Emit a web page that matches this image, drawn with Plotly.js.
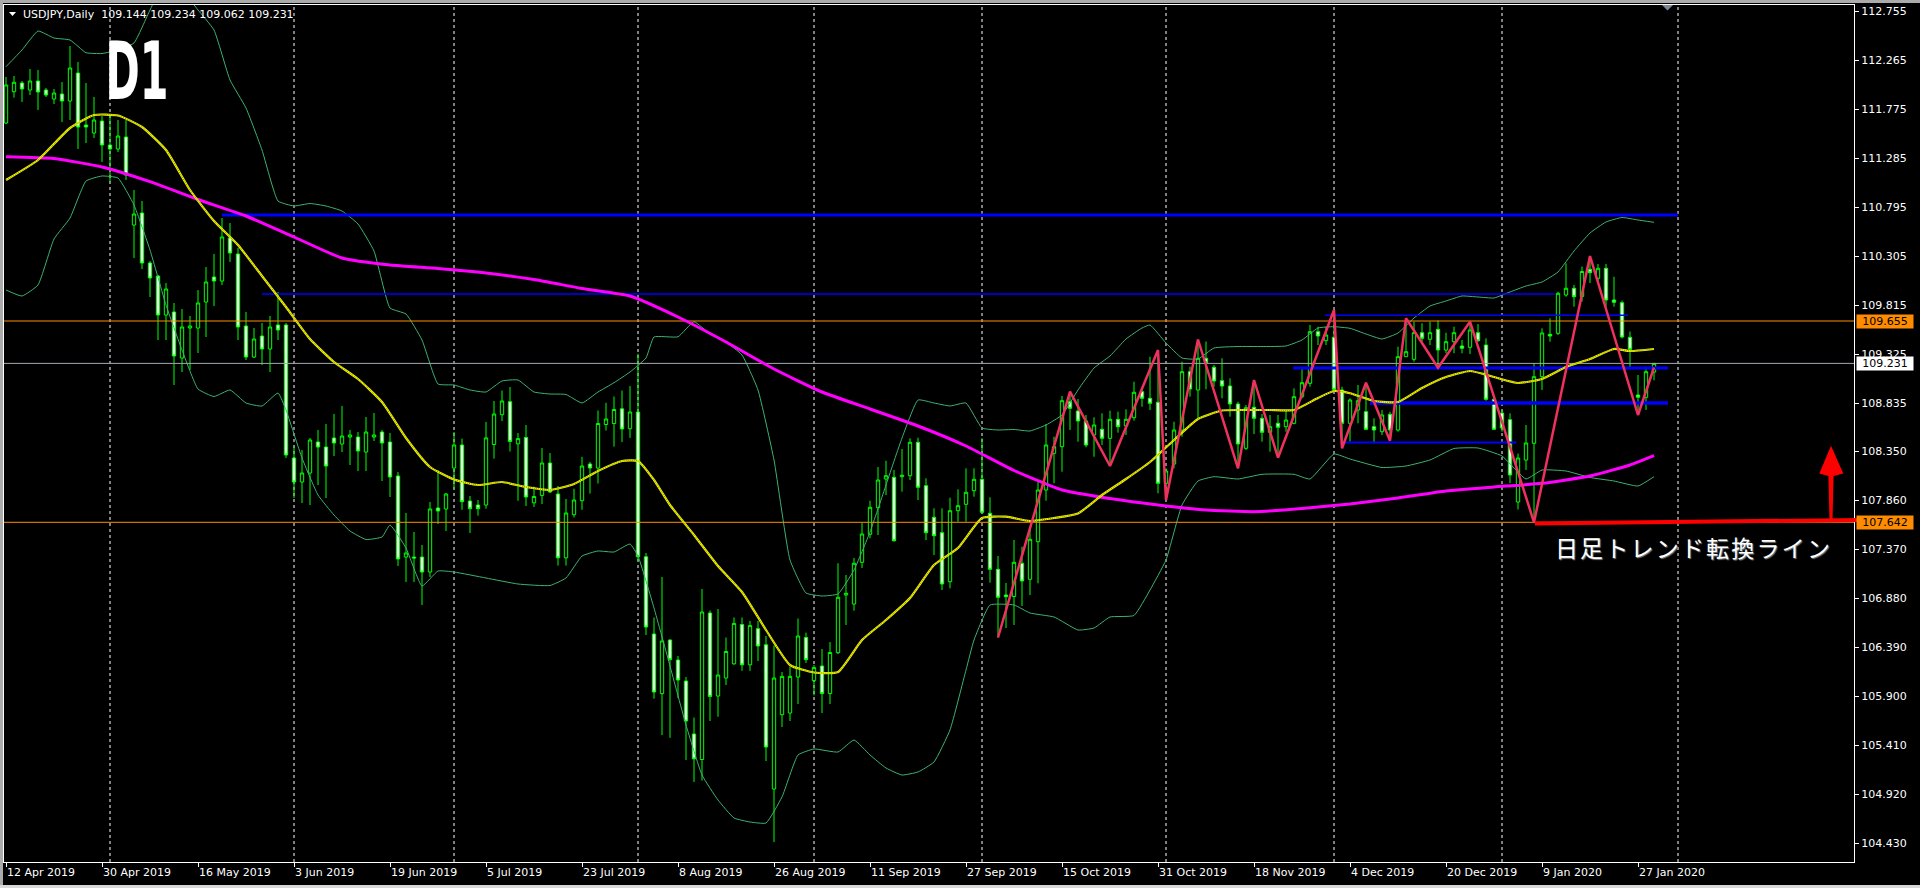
<!DOCTYPE html>
<html><head><meta charset="utf-8">
<script src="https://cdn.plot.ly/plotly-3.0.1.min.js"></script>
<style>html,body{margin:0;padding:0;background:#000;overflow:hidden}#chart{width:1920px;height:888px}</style>
</head><body><div id="chart"></div>
<script>
// ---------------- data ----------------
const opens = [
111.635,111.948,112.035,111.965,112.055,111.965,111.875,111.925,111.855,112.135,
111.615,111.535,111.655,111.415,111.375,111.495,110.615,110.735,110.235,110.105,
109.715,109.745,109.285,109.585,109.585,109.845,110.095,110.055,110.485,110.325,
109.605,109.295,109.505,109.375,109.615,109.615,108.285,108.045,108.135,108.445,
108.395,108.485,108.425,108.495,108.495,108.345,108.495,108.545,108.445,108.105,
107.295,107.295,107.295,107.145,107.785,107.775,108.185,108.415,107.855,107.815,
107.815,108.420,108.718,108.848,108.427,108.490,107.837,107.911,108.235,107.925,
107.287,107.718,107.858,108.225,108.185,108.620,108.630,108.777,108.578,108.745,
107.297,106.525,105.929,106.465,106.265,106.055,105.525,105.270,106.735,105.905,
106.085,106.227,106.620,106.217,106.578,106.417,104.975,105.718,105.735,106.095,
106.490,106.059,106.205,105.929,106.338,106.915,106.825,107.242,107.522,107.788,
108.075,108.092,108.098,108.108,108.442,108.008,107.692,107.538,107.048,107.758,
107.822,107.958,108.072,107.732,107.172,106.915,106.900,107.232,107.072,107.448,
107.965,108.332,108.398,108.848,108.755,108.655,108.515,108.572,108.482,108.672,
108.605,108.688,108.948,108.882,108.842,108.032,108.225,108.565,109.148,108.965,
109.282,109.192,109.058,109.005,108.825,108.382,108.792,108.682,108.542,108.632,
108.598,108.632,108.898,109.032,109.548,109.458,109.492,108.965,108.632,108.765,
108.748,108.598,108.548,108.722,108.565,109.298,109.272,109.538,109.472,109.572,
109.365,109.448,109.405,109.392,109.538,109.415,108.872,108.735,108.668,107.845,
108.265,108.432,109.098,109.522,109.532,109.915,109.982,109.900,110.172,110.082,
110.182,109.865,109.838,109.492,108.915,108.892,109.144];
const highs = [
112.095,112.105,112.055,112.175,112.165,111.985,111.975,112.045,112.405,112.245,
112.035,111.895,111.705,111.705,111.665,111.665,110.965,110.855,110.255,110.115,
110.035,109.835,109.775,109.705,109.965,110.195,110.325,110.685,110.635,110.385,
109.745,109.585,109.635,109.705,109.945,109.635,108.405,108.365,108.485,108.565,
108.625,108.725,108.805,108.565,108.545,108.695,108.735,108.565,108.535,108.145,
107.735,107.545,107.415,107.845,108.165,107.935,108.545,108.479,107.905,107.865,
108.645,108.855,108.960,108.995,108.535,108.615,107.999,108.385,108.335,108.005,
107.875,107.978,108.297,108.245,108.760,108.837,108.900,108.960,109.005,109.328,
107.335,106.690,107.095,106.470,106.305,106.095,105.690,106.975,106.760,106.775,
106.490,106.690,106.690,106.655,106.655,106.505,106.410,106.145,106.199,106.680,
106.539,106.215,106.375,106.445,107.232,107.115,107.285,107.635,107.858,108.195,
108.258,108.165,108.375,108.482,108.488,108.082,107.782,107.782,107.888,107.972,
108.182,108.182,108.482,107.892,107.305,107.035,107.465,107.398,107.565,108.065,
108.625,108.498,108.905,108.948,108.875,108.715,108.692,108.732,108.758,108.748,
108.772,109.048,108.992,109.298,109.365,108.182,108.648,109.248,109.198,109.470,
109.450,109.215,109.282,109.082,108.848,108.815,109.065,108.725,108.715,108.715,
108.765,108.982,109.182,109.615,109.598,109.598,109.765,108.998,108.882,109.015,
109.038,108.682,108.765,108.748,109.398,109.682,109.648,109.632,109.648,109.660,
109.538,109.598,109.465,109.648,109.625,109.482,108.898,108.765,108.732,108.330,
108.615,109.232,109.582,109.682,109.948,110.232,110.015,110.200,110.305,110.225,
110.225,110.098,109.860,109.550,109.115,109.198,109.234];
const lows = [
111.625,111.888,111.845,111.915,111.765,111.895,111.825,111.645,111.665,111.375,
111.435,111.485,111.245,111.045,111.345,111.065,110.285,110.175,109.895,109.465,
109.465,109.015,109.145,109.165,109.335,109.495,109.805,110.015,110.245,109.465,
109.265,109.285,109.215,109.145,109.465,108.285,107.885,107.835,107.815,108.015,
107.885,108.305,108.345,108.215,108.155,108.155,108.455,108.055,107.895,107.205,
107.045,107.045,106.815,107.095,107.625,107.555,107.975,107.767,107.535,107.708,
107.778,108.279,108.655,108.350,107.858,107.805,107.795,107.825,107.935,107.209,
107.209,107.690,107.767,107.929,108.030,108.560,108.399,108.445,108.486,107.255,
106.515,105.878,105.515,105.487,105.885,105.265,105.045,105.059,105.655,105.698,
106.015,106.217,106.157,106.157,106.255,105.255,104.445,105.595,105.655,105.825,
106.235,105.911,105.735,105.825,106.325,106.615,106.758,107.185,107.482,107.515,
107.915,107.448,107.948,108.065,107.865,107.465,107.315,106.965,106.982,107.648,
107.648,107.898,107.732,107.038,106.490,106.585,106.615,106.805,106.915,107.032,
107.858,108.032,108.148,108.565,108.448,108.392,108.298,108.415,108.205,108.538,
108.515,108.658,108.798,108.765,107.932,107.865,108.182,108.498,108.898,108.682,
108.972,108.998,108.882,108.698,108.182,108.365,108.525,108.448,108.348,108.288,
108.548,108.622,108.882,108.998,109.415,109.415,108.965,108.382,108.450,108.632,
108.565,108.432,108.515,108.458,108.548,109.298,109.248,109.448,109.415,109.188,
109.332,109.332,109.332,109.325,109.448,108.858,108.565,108.548,108.032,107.770,
108.165,107.642,108.965,109.448,109.515,109.898,109.798,109.850,110.035,110.035,
109.798,109.798,109.480,109.172,108.715,108.765,109.062];
const closes = [
112.015,112.042,111.975,112.055,111.945,111.915,111.935,111.855,112.185,111.595,
111.595,111.665,111.415,111.375,111.505,111.115,110.725,110.235,110.085,109.715,
109.975,109.305,109.595,109.605,109.835,110.045,110.055,110.495,110.335,109.595,
109.295,109.475,109.375,109.595,109.565,108.315,108.045,108.135,108.465,108.395,
108.205,108.435,108.505,108.515,108.355,108.545,108.515,108.435,108.095,107.275,
107.335,107.285,107.145,107.775,107.755,107.925,108.415,107.848,107.778,107.778,
108.486,108.725,108.855,108.451,108.479,107.895,107.900,108.235,107.945,107.287,
107.735,107.865,108.205,108.185,108.630,108.675,108.770,108.575,108.745,107.297,
106.595,105.945,106.455,106.269,106.065,105.655,105.277,106.745,105.901,106.115,
106.350,106.631,106.217,106.609,106.405,105.395,106.085,106.101,106.101,106.505,
106.269,106.189,105.929,106.340,106.892,106.932,107.232,107.525,107.792,108.065,
108.108,107.458,108.112,108.442,107.992,107.538,107.508,107.025,107.758,107.808,
107.942,108.072,107.742,107.172,106.892,106.898,107.242,107.055,107.472,107.965,
108.415,108.398,108.858,108.782,108.655,108.415,108.615,108.482,108.672,108.598,
108.672,108.942,108.882,108.832,108.032,108.155,108.565,109.148,108.975,109.282,
109.238,109.055,109.005,108.825,108.425,108.788,108.682,108.542,108.598,108.592,
108.665,108.898,109.038,109.548,109.505,109.515,108.972,108.632,108.865,108.858,
108.572,108.565,108.715,108.565,109.298,109.348,109.538,109.482,109.538,109.365,
109.448,109.538,109.382,109.565,109.458,108.872,108.572,108.585,108.115,108.285,
108.435,109.098,109.535,109.505,109.932,109.982,109.898,110.150,110.138,110.182,
109.865,109.842,109.495,109.372,108.892,109.148,109.231];

// date axis (bar index positions and their labels)
const tickIdx = [0,12,24,36,48,60,72,84,96,108,120,132,144,156,168,180,192,204];
const tickLabels = ["12 Apr 2019","30 Apr 2019","16 May 2019","3 Jun 2019","19 Jun 2019","5 Jul 2019",
  "23 Jul 2019","8 Aug 2019","26 Aug 2019","11 Sep 2019","27 Sep 2019","15 Oct 2019","31 Oct 2019",
  "18 Nov 2019","4 Dec 2019","20 Dec 2019","9 Jan 2020","27 Jan 2020"];
const monthSepIdx = [13,36,56,79,101,122,145,166,187,209];
const priceTicks = [104.430,104.920,105.410,105.900,106.390,106.880,107.370,107.860,108.350,
  108.835,109.325,109.815,110.305,110.795,111.285,111.775,112.265,112.755];

// slow MA (magenta)
const maSlowIdx = [0,6,12,18,24,30,36,42,48,54,60,66,72,78,84,90,96,102,108,114,120,126,132,138,144,150,156,162,168,174,180,186,192,198,203,206];
const maSlowVal = [111.298,111.28,111.195,111.048,110.87,110.705,110.495,110.285,110.215,110.18,110.135,110.07,109.98,109.905,109.695,109.445,109.175,108.945,108.775,108.605,108.405,108.16,107.965,107.88,107.815,107.765,107.748,107.78,107.825,107.885,107.955,107.995,108.032,108.105,108.215,108.308];
// fast MA (yellow)
const maFastIdx = [0,4,8,11,14,17,20,23,26,29,32,35,38,41,44,47,50,53,56,59,62,65,68,71,74,77,79,81,83,86,89,92,95,98,101,104,107,110,113,116,119,122,125,128,131,134,137,140,143,146,149,152,155,158,161,164,166,168,171,174,177,180,183,186,189,192,195,198,201,203,206];
const maFastVal = [111.065,111.265,111.585,111.715,111.71,111.595,111.365,110.965,110.655,110.415,110.105,109.795,109.475,109.245,109.075,108.845,108.485,108.195,108.07,108.015,108.045,107.995,107.965,108.025,108.155,108.255,108.255,108.065,107.815,107.515,107.205,106.945,106.565,106.215,106.14,106.145,106.465,106.665,106.885,107.215,107.385,107.685,107.698,107.655,107.685,107.73,107.915,108.075,108.245,108.465,108.675,108.76,108.765,108.765,108.765,108.885,108.955,108.932,108.855,108.845,108.985,109.095,109.155,109.095,109.035,109.075,109.195,109.275,109.375,109.355,109.375];
// Bollinger upper / lower
const bbUpIdx = [0,2,4,6,8,10,12,14,16,18,20,22,24,26,28,30,32,34,36,38,40,42,44,46,48,50,52,54,56,58,60,62,64,66,68,70,72,74,76,78,80,81,84,86,88,90,92,94,96,98,100,102,104,106,108,110,112,114,116,118,120,122,124,126,128,130,132,134,136,138,140,142,143,145,147,149,151,154,157,160,162,164,166,168,170,172,174,176,178,180,182,184,186,188,190,192,194,196,198,200,202,204,206];
const bbUpVal = [112.198,112.365,112.555,112.485,112.465,112.338,112.33,112.365,112.435,112.765,113.065,112.965,112.765,112.565,112.065,111.785,111.365,110.855,110.805,110.83,110.805,110.755,110.625,110.355,109.785,109.725,109.465,109.025,109.015,108.965,108.945,109.055,109.065,108.945,108.925,108.92,108.835,108.945,109.038,109.145,109.285,109.495,109.497,109.648,109.525,109.445,109.315,108.965,108.265,107.265,106.935,106.905,106.925,107.165,107.545,108.015,108.485,108.865,108.835,108.805,108.835,108.585,108.565,108.57,108.555,108.615,108.715,108.965,109.185,109.305,109.475,109.585,109.615,109.435,109.285,109.275,109.385,109.40,109.40,109.405,109.465,109.585,109.598,109.582,109.525,109.475,109.535,109.685,109.805,109.855,109.905,109.895,109.885,109.945,110.005,110.045,110.145,110.355,110.535,110.645,110.69,110.665,110.642];
const bbLoIdx = [0,2,4,6,8,10,12,14,16,18,20,22,24,26,28,30,32,34,35,37,39,41,43,45,47,48,50,52,54,56,60,64,68,70,72,74,76,78,79,81,83,85,87,89,91,93,95,97,99,101,104,106,108,110,112,114,116,118,120,121,123,126,128,131,134,136,138,141,143,145,147,149,151,154,157,161,163,166,168,172,175,178,181,184,187,190,192,195,198,201,204,206];
const bbLoVal = [109.965,109.905,110.015,110.475,110.685,111.055,111.105,111.085,110.815,110.365,109.815,109.365,108.975,108.90,108.965,108.835,108.805,108.935,108.765,108.285,107.915,107.715,107.555,107.47,107.495,107.615,107.385,107.005,107.155,107.145,107.085,107.025,107.01,107.085,107.305,107.355,107.345,107.425,107.305,106.785,106.205,105.615,105.115,104.865,104.685,104.645,104.635,104.895,105.315,105.375,105.345,105.465,105.315,105.185,105.115,105.145,105.245,105.565,106.165,106.465,106.815,106.815,106.735,106.695,106.565,106.585,106.695,106.71,106.965,107.265,107.815,108.055,108.098,108.075,108.122,108.122,108.075,108.325,108.275,108.19,108.205,108.265,108.38,108.385,108.305,108.075,108.165,108.155,108.09,108.055,108.005,108.098];
// ZigZag
const zzIdx = [124,133,138,144,145,149,154,156,159,166,167,170,173,175,179,183,191,198,204,206];
const zzVal = [106.49,108.948,108.205,109.365,107.865,109.47,108.182,109.065,108.288,109.765,108.382,109.038,108.458,109.682,109.188,109.648,107.642,110.305,108.715,109.19];
// horizontal lines
const orangeLevels = [109.655, 107.642];
const greyLevel = 109.231;
const blueLevels = [110.715, 109.925, 109.712, 109.185, 108.835, 108.44];
const blueStart  = [27, 32, 164.9, 160.9, 170.5, 166.8];
const blueEnd    = [209, 193.6, 202.75, 207.75, 207.75, 188.8];
const blueWidth  = [3.2, 1.5, 1.5, 3, 3.5, 2];
const trendText = '日足トレンド転換ライン';

// ---------------- geometry ----------------
const PL=4, PR=1854, PT=5, PB=862;
const px = x => (x-PL)/(PR-PL);
const py = y => (PB-y)/(PB-PT);
const N = opens.length;
const idx = Array.from({length:N}, (_, i) => i);
const xRange = [(PL-6)/8, (PR-6)/8];
const yRange = [104.245, 112.815];

const traces = [];
traces.push({type:'candlestick', x:idx, open:opens, high:highs, low:lows, close:closes,
  increasing:{line:{color:'#00FF00', width:1}, fillcolor:'#000000'},
  decreasing:{line:{color:'#00FF00', width:1}, fillcolor:'#FFFFFF'},
  whiskerwidth:0, hoverinfo:'skip', showlegend:false});
traces.push({type:'scatter', mode:'lines', x:bbUpIdx, y:bbUpVal, line:{color:'#3CB371', width:1, shape:'spline', smoothing:0.4}, hoverinfo:'skip', showlegend:false});
traces.push({type:'scatter', mode:'lines', x:bbLoIdx, y:bbLoVal, line:{color:'#3CB371', width:1, shape:'spline', smoothing:0.4}, hoverinfo:'skip', showlegend:false});
orangeLevels.forEach(v => traces.push({type:'scatter', mode:'lines', x:[xRange[0]-2, xRange[1]+2], y:[v, v], line:{color:'#FF8C00', width:1}, hoverinfo:'skip', showlegend:false}));
traces.push({type:'scatter', mode:'lines', x:[xRange[0]-2, xRange[1]+2], y:[greyLevel, greyLevel], line:{color:'#A0A8B0', width:1}, hoverinfo:'skip', showlegend:false});
blueLevels.forEach((v, k) => traces.push({type:'scatter', mode:'lines', x:[blueStart[k], blueEnd[k]], y:[v, v], line:{color:'#0000FF', width:blueWidth[k]}, hoverinfo:'skip', showlegend:false}));
traces.push({type:'scatter', mode:'lines', x:maSlowIdx, y:maSlowVal, line:{color:'#FF00FF', width:3, shape:'spline', smoothing:0.5}, hoverinfo:'skip', showlegend:false});
traces.push({type:'scatter', mode:'lines', x:maFastIdx, y:maFastVal, line:{color:'#F4F400', width:2.2, shape:'spline', smoothing:0.5}, hoverinfo:'skip', showlegend:false});
traces.push({type:'scatter', mode:'lines', x:maFastIdx, y:maFastVal, line:{color:'#7E8C00', width:1, dash:'1px,1px', shape:'spline', smoothing:0.5}, hoverinfo:'skip', showlegend:false});
traces.push({type:'scatter', mode:'lines', x:zzIdx, y:zzVal, line:{color:'#F0305E', width:2.5}, hoverinfo:'skip', showlegend:false});

const shapes = [];
// window frame
shapes.push({type:'rect', xref:'paper', yref:'paper', x0:px(0), x1:px(1920), y0:py(0), y1:py(3), fillcolor:'#ABABAB', line:{width:0}});
shapes.push({type:'rect', xref:'paper', yref:'paper', x0:px(0), x1:px(3), y0:py(0), y1:py(888), fillcolor:'#ABABAB', line:{width:0}});
shapes.push({type:'rect', xref:'paper', yref:'paper', x0:px(0), x1:px(1920), y0:py(885), y1:py(888), fillcolor:'#D8D8D8', line:{width:0}});
// month separators
monthSepIdx.forEach(i => shapes.push({type:'line', xref:'x', yref:'paper', x0:i, x1:i, y0:0, y1:1, layer:'below',
  line:{color:'#FFFFFF', width:1, dash:'3px,3px'}}));
// title triangle and top shift marker
const tri = pts => 'M ' + pts.map(p => px(p[0]) + ',' + py(p[1])).join(' L ') + ' Z';
shapes.push({type:'path', xref:'paper', yref:'paper', path:tri([[9,12],[16,12],[12.5,16]]), fillcolor:'#FFFFFF', line:{width:0}});
shapes.push({type:'path', xref:'paper', yref:'paper', path:tri([[1662,5],[1673,5],[1667.5,10.5]]), fillcolor:'#7B8794', line:{width:0}});
// red trend-change line and arrow
shapes.push({type:'line', xref:'paper', yref:'paper', x0:px(1535), y0:py(523.5), x1:px(1861), y1:py(520), line:{color:'#FF0000', width:4}});
shapes.push({type:'path', xref:'paper', yref:'paper', path:tri([[1829.5,521],[1828.4,476],[1819.3,473.5],[1831,445.7],[1843.3,473.5],[1833.6,476],[1832.5,521]]), fillcolor:'#FF0000', line:{width:0}});

const annotations = [];
annotations.push({xref:'paper', yref:'paper', x:px(136.5), y:py(71.5), xanchor:'center', yanchor:'middle', showarrow:false,
  text:'D1', font:{family:'Liberation Sans Narrow, DejaVu Sans Condensed, Liberation Sans, sans-serif', size:80, color:'#FFFFFF', weight:700}});
annotations.push({xref:'paper', yref:'paper', x:px(22), y:py(14.5), xanchor:'left', yanchor:'middle', showarrow:false, borderpad:0,
  text:'USDJPY,Daily\u00a0\u00a0' + [opens[N-1], highs[N-1], lows[N-1], closes[N-1]].map(v => v.toFixed(3)).join(' '),
  font:{family:'DejaVu Sans', size:11, color:'#FFFFFF'}});
annotations.push({xref:'paper', yref:'paper', x:px(1565), y:py(547), xanchor:'left', yanchor:'middle', showarrow:false,
  text:trendText, font:{family:'Noto Sans CJK JP', size:23, color:'#FFFFFF', shadow:'1px 1px 1px #808080'}});
const priceBox = (v, bg) => ({xref:'paper', yref:'y', x:px(1855.5), y:v, xanchor:'left', yanchor:'middle', showarrow:false,
  text:v.toFixed(3), bgcolor:bg, width:56, height:13, borderpad:0, align:'center',
  font:{family:'DejaVu Sans', size:11, color:'#000000'}});
orangeLevels.forEach(v => annotations.push(priceBox(v, '#FF8C00')));
annotations.push(priceBox(greyLevel, '#FFFFFF'));

const axisFont = {family:'DejaVu Sans', size:11, color:'#FFFFFF'};
const layout = {
  width:1920, height:888, margin:{l:PL, r:1920-PR, t:PT, b:888-PB, pad:0},
  paper_bgcolor:'#000000', plot_bgcolor:'#000000', showlegend:false,
  font:{family:'DejaVu Sans', color:'#FFFFFF'}, boxgap:0.4,
  xaxis:{type:'linear', range:xRange, showgrid:false, zeroline:false, showline:true, linecolor:'#FFFFFF', linewidth:1, mirror:true,
    ticks:'outside', ticklen:4, tickcolor:'#FFFFFF', tickvals:tickIdx, ticktext:tickLabels, tickfont:axisFont,
    ticklabelposition:'outside right', rangeslider:{visible:false}, fixedrange:true},
  yaxis:{range:yRange, side:'right', showgrid:false, zeroline:false, showline:true, linecolor:'#FFFFFF', linewidth:1, mirror:true,
    ticks:'outside', ticklen:4, tickcolor:'#FFFFFF', tickvals:priceTicks, ticktext:priceTicks.map(v => v.toFixed(3)),
    tickfont:axisFont, fixedrange:true},
  shapes:shapes, annotations:annotations
};

Plotly.newPlot('chart', traces, layout, {staticPlot:true, displayModeBar:false}).then(() => {
  try {
    document.querySelectorAll('.annotation-text').forEach(t => {
      if (t.textContent === 'D1') {
        const b = t.getBBox();
        const sx = 63 / b.width;
        const cx = b.x + b.width / 2;
        t.setAttribute('transform', 'translate(' + (cx * (1 - sx)) + ',0) scale(' + sx + ',1)');
      } else if (t.textContent === trendText) {
        t.style.letterSpacing = '2.2px';
      }
    });
  } catch (e) {}
});
</script>
</body></html>
